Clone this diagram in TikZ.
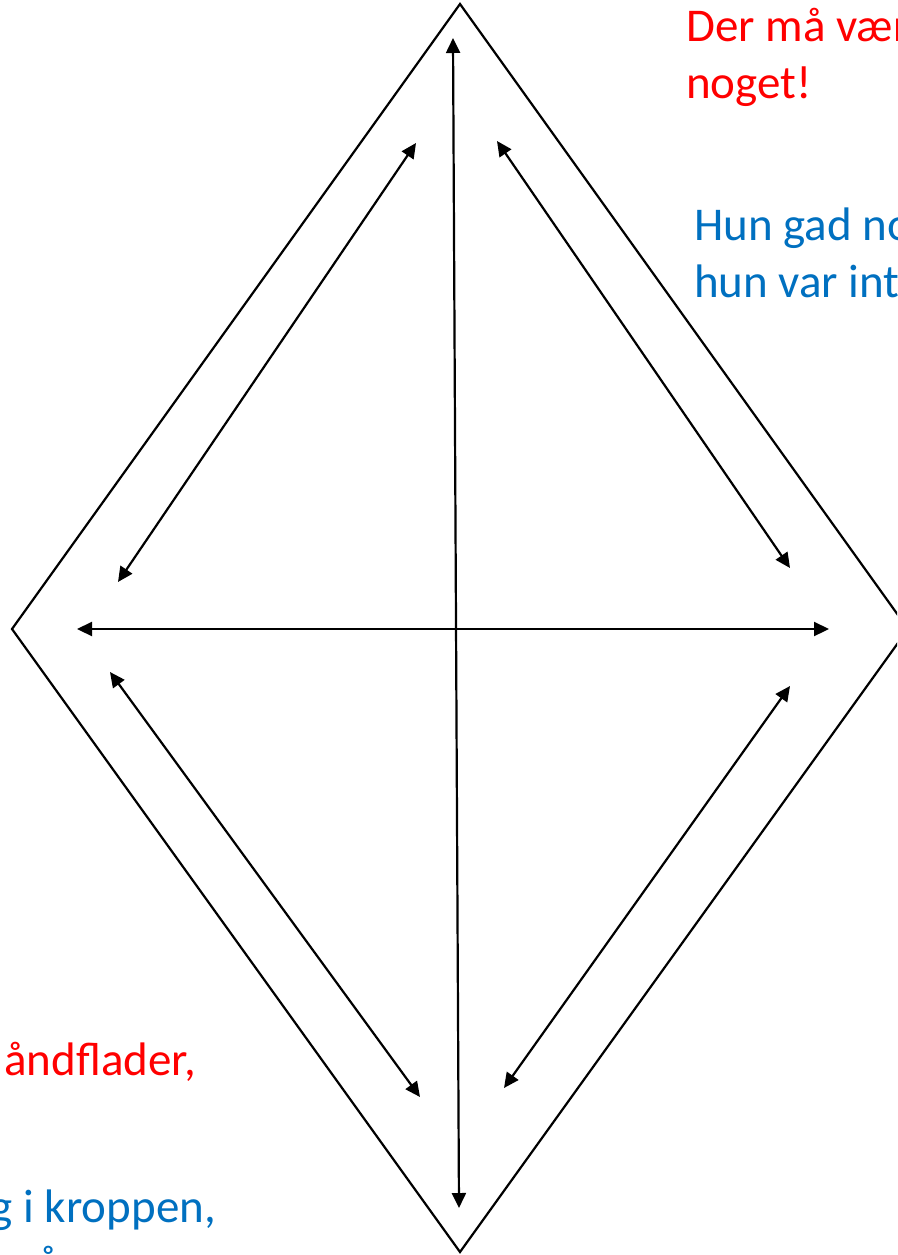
\documentclass[tikz,border=0pt]{standalone}
\usepackage{fontspec}
\setmainfont{Carlito}
\usetikzlibrary{arrows.meta}
\definecolor{txtred}{HTML}{FF0000}
\definecolor{txtblue}{HTML}{0070C0}
\tikzset{
  edge/.style={line width=2.2pt, line join=miter},
  dbl/.style={line width=2.2pt, {Triangle[length=15pt,width=14pt]}-{Triangle[length=15pt,width=14pt]}},
  lbl/.style={inner sep=0pt, anchor=base west, font=\fontsize{47}{56}\selectfont},
  lblE/.style={inner sep=0pt, anchor=base east, font=\fontsize{47}{56}\selectfont},
}
\begin{document}
\begin{tikzpicture}[x=1pt,y=-1pt]
\useasboundingbox (0,0) rectangle (897,1255);
\clip (0,0) rectangle (897,1255);
\fill[white] (0,0) rectangle (897,1255);
% diamond vertices
\coordinate (T) at (460,4);
\coordinate (L) at (12,629);
\coordinate (R) at (908,629);
\coordinate (B) at (460,1252);
\draw[edge] (T) -- (L) -- (B) -- (R) -- cycle;
% arrow end points
\coordinate (vt) at (453,38);
\coordinate (vb) at (459,1208);
\coordinate (hl) at (77,629);
\coordinate (hr) at (829,629);
\coordinate (ul1) at (118,582);
\coordinate (ul2) at (416,143);
\coordinate (ur1) at (497,141);
\coordinate (ur2) at (790,568);
\coordinate (ll1) at (110,672);
\coordinate (ll2) at (420,1097);
\coordinate (lr1) at (790,686);
\coordinate (lr2) at (504,1088);
\draw[dbl] (vt) -- (vb);
\draw[dbl] (hl) -- (hr);
\draw[dbl] (ul1) -- (ul2);
\draw[dbl] (ur1) -- (ur2);
\draw[dbl] (ll1) -- (ll2);
\draw[dbl] (lr1) -- (lr2);
% texts
\node[lbl, text=txtred] (r1) at (686,42) {Der må være};
\node[lbl, text=txtred] (r2) at (686,98) {noget!};
\node[lbl, text=txtblue] (b1) at (694,240) {Hun gad nok};
\node[lbl, text=txtblue] (b2) at (694,297) {hun var inte};
\node[lblE, text=txtred] (r3) at (196,1075) {åndflader,};
\node[lblE, text=txtblue] (b3) at (216,1222) {g i kroppen,};
\node[lbl, text=txtblue] (b4) at (37,1279) {å};
\end{tikzpicture}
\end{document}
